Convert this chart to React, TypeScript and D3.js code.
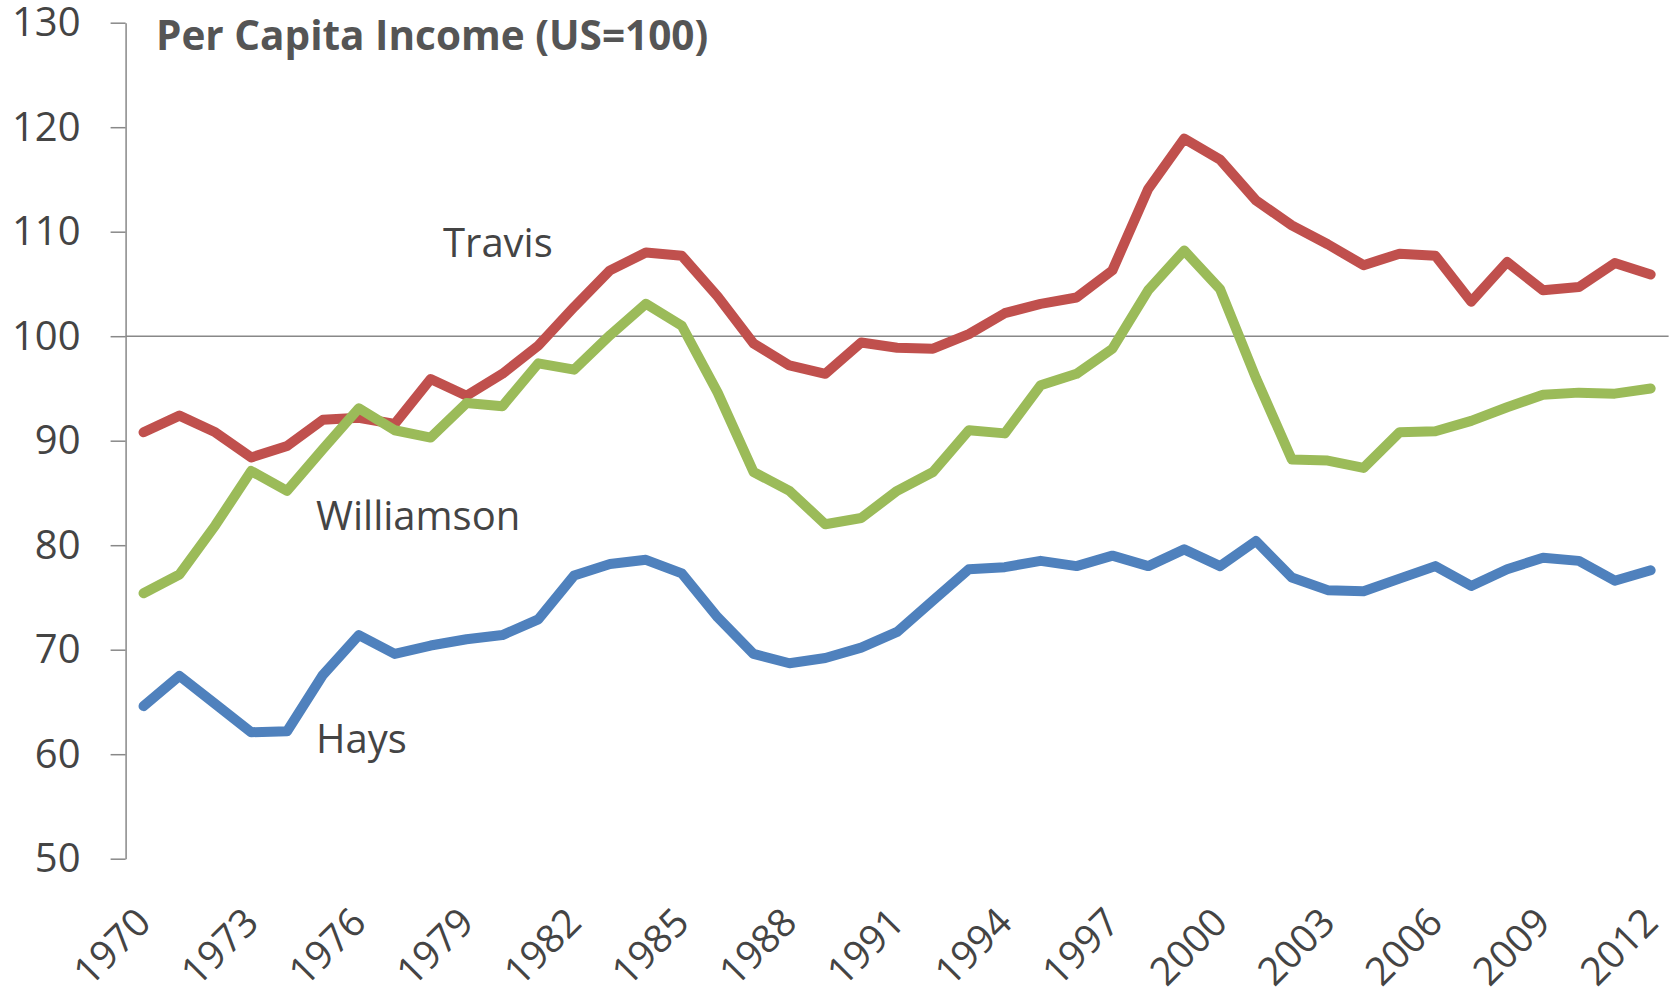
import React, { useRef, useEffect } from "react";
import * as d3 from "d3";

const years = [
  1970, 1971, 1972, 1973, 1974, 1975, 1976, 1977, 1978, 1979, 1980, 1981,
  1982, 1983, 1984, 1985, 1986, 1987, 1988, 1989, 1990, 1991, 1992, 1993,
  1994, 1995, 1996, 1997, 1998, 1999, 2000, 2001, 2002, 2003, 2004, 2005,
  2006, 2007, 2008, 2009, 2010, 2011, 2012,
];

const travis = [
  90.8, 92.4, 90.8, 88.4, 89.5, 92.0, 92.2, 91.6, 95.9, 94.3, 96.4, 99.1,
  102.8, 106.3, 108.0, 107.7, 103.8, 99.3, 97.2, 96.4, 99.4, 98.9, 98.8, 100.2,
  102.2, 103.1, 103.7, 106.3, 114.1, 118.9, 116.9, 113.0, 110.6, 108.8, 106.8, 107.9,
  107.7, 103.3, 107.1, 104.4, 104.7, 107.0, 105.9,
];

const williamson = [
  75.4, 77.2, 81.9, 87.1, 85.2, 89.2, 93.1, 91.0, 90.3, 93.6, 93.3, 97.4,
  96.8, 100.1, 103.1, 101.0, 94.6, 87.0, 85.2, 82.0, 82.6, 85.2, 87.0, 91.0,
  90.7, 95.3, 96.4, 98.8, 104.4, 108.2, 104.5, 96.0, 88.2, 88.1, 87.4, 90.8,
  90.9, 91.9, 93.2, 94.4, 94.6, 94.5, 95.0,
];

const hays = [
  64.6, 67.5, 64.8, 62.1, 62.2, 67.6, 71.4, 69.6, 70.4, 71.0, 71.4, 72.9,
  77.1, 78.2, 78.6, 77.3, 73.1, 69.6, 68.7, 69.2, 70.2, 71.7, 74.7, 77.7,
  77.9, 78.5, 78.0, 79.0, 78.0, 79.6, 78.0, 80.4, 76.9, 75.7, 75.6, 76.8,
  78.0, 76.1, 77.7, 78.8, 78.5, 76.6, 77.6,
];

const yTicks = [50, 60, 70, 80, 90, 100, 110, 120, 130];
const xTickYears = [1970, 1973, 1976, 1979, 1982, 1985, 1988, 1991, 1994, 1997, 2000, 2003, 2006, 2009, 2012];

const series = [
  { name: "Hays", values: hays, color: "#4F81BD", label: [316, 753] },
  { name: "Travis", values: travis, color: "#C0504D", label: [443, 257] },
  { name: "Williamson", values: williamson, color: "#9BBB59", label: [316, 530] },
];

const W = 1671;
const H = 990;
const plot = { left: 125.6, right: 1668.6, top: 22.7, bottom: 858.7 };
const font = "'Open Sans', sans-serif";
const textColor = "#444444";
const axisColor = "#888888";

const App = () => {
  const ref = useRef(null);

  useEffect(() => {
    const svg = d3.select(ref.current);
    svg.selectAll("*").remove();

    const x = d3.scalePoint().domain(years).range([plot.left, plot.right]).padding(0.5);
    const y = d3.scaleLinear().domain([50, 130]).range([plot.bottom, plot.top]);

    // y axis
    const yAxis = svg
      .append("g")
      .attr("transform", `translate(${plot.left},0)`)
      .call(d3.axisLeft(y).tickValues(yTicks).tickSize(15).tickSizeOuter(0).tickPadding(30));
    yAxis.select(".domain").attr("stroke", axisColor).attr("stroke-width", 1.5);
    yAxis.selectAll(".tick line").attr("stroke", axisColor).attr("stroke-width", 1.5);
    yAxis
      .selectAll(".tick text")
      .attr("font-family", font)
      .attr("font-size", 40)
      .attr("fill", textColor);

    // category axis crosses at 100
    svg
      .append("line")
      .attr("x1", plot.left)
      .attr("x2", plot.right)
      .attr("y1", y(100))
      .attr("y2", y(100))
      .attr("stroke", axisColor)
      .attr("stroke-width", 1.5);

    // x labels sit low, rotated
    const xAxis = svg
      .append("g")
      .attr("transform", `translate(0,${plot.bottom})`)
      .call(d3.axisBottom(x).tickValues(xTickYears).tickSize(0));
    xAxis.select(".domain").remove();
    xAxis
      .selectAll(".tick text")
      .attr("font-family", font)
      .attr("font-size", 39)
      .attr("fill", textColor)
      .attr("text-anchor", "end")
      .attr("x", 0)
      .attr("y", 0)
      .attr("dy", 0)
      .attr("transform", "translate(9,66) rotate(-45)");

    // lines
    const line = d3
      .line()
      .x((d, i) => x(years[i]))
      .y((d) => y(d));

    series.forEach((s) => {
      svg
        .append("path")
        .datum(s.values)
        .attr("d", line)
        .attr("fill", "none")
        .attr("stroke", s.color)
        .attr("stroke-width", 10)
        .attr("stroke-linejoin", "round")
        .attr("stroke-linecap", "round");
    });

    // series labels
    series.forEach((s) => {
      svg
        .append("text")
        .attr("x", s.label[0])
        .attr("y", s.label[1])
        .attr("font-family", font)
        .attr("font-size", 40)
        .attr("fill", textColor)
        .text(s.name);
    });

    // title
    svg
      .append("text")
      .attr("x", 156)
      .attr("y", 50)
      .attr("font-family", font)
      .attr("font-size", 40.5)
      .attr("font-weight", "bold")
      .attr("fill", "#555555")
      .text("Per Capita Income (US=100)");
  }, []);

  return (
    <svg
      ref={ref}
      width={W}
      height={H}
      style={{ position: "absolute", left: 0, top: 0, background: "#fff" }}
    ></svg>
  );
};

export default App;
